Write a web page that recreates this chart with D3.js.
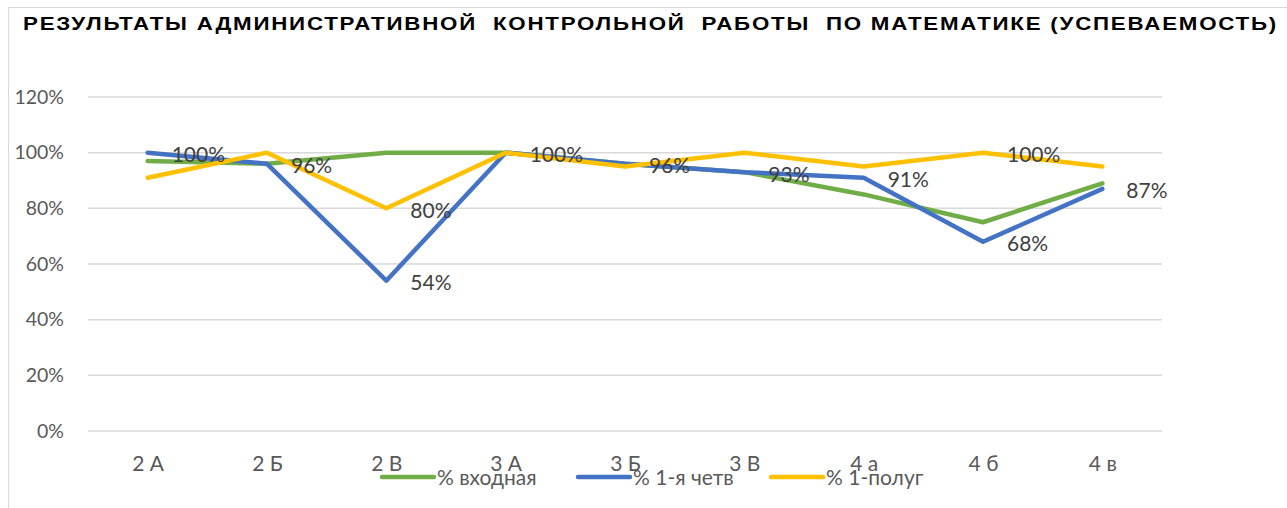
<!DOCTYPE html>
<html><head><meta charset="utf-8">
<script src="https://cdn.jsdelivr.net/npm/d3@7"></script>
<style>html,body{margin:0;padding:0;background:#fff;}svg{display:block;}</style>
</head><body>
<svg id="c" width="1287" height="508"></svg>
<script>
const title = "РЕЗУЛЬТАТЫ АДМИНИСТРАТИВНОЙ  КОНТРОЛЬНОЙ  РАБОТЫ  ПО МАТЕМАТИКЕ (УСПЕВАЕМОСТЬ)";
const categories = ["2 А","2 Б","2 В","3 А","3 Б","3 В","4 а","4 б","4 в"];
const seriesNames = ["% входная","% 1-я четв","% 1-полуг"];
const vhodnaya = [0.97,0.96,1.00,1.00,0.96,0.93,0.85,0.75,0.89];
const chetv1   = [1.00,0.96,0.54,1.00,0.96,0.93,0.91,0.68,0.87];
const polug1   = [0.91,1.00,0.80,1.00,0.95,1.00,0.95,1.00,0.95];
const chetv1Labels = [true,true,true,true,true,true,true,true,true];
const polug1Labels = [false,false,true,false,false,false,false,true,false];
const yTicks = [0,0.2,0.4,0.6,0.8,1.0,1.2];
const colors = ["#70ad47","#4472c4","#ffc000"];

const svg = d3.select("#c");
const W = 1287, H = 508;
const mLeft = 88, mRight = 1162, mTop = 97, mBottom = 431;

// chart border
svg.append("rect").attr("x",8.5).attr("y",7.5).attr("width",W+10).attr("height",H+10)
  .attr("fill","none").attr("stroke","#d9d9d9").attr("stroke-width",1);

svg.append("text").attr("x",23).attr("y",30)
  .attr("font-family","'Liberation Sans', Arial, sans-serif").attr("font-weight","bold")
  .attr("font-size",19).attr("fill","#000")
  .attr("letter-spacing",1.5)
  .attr("textLength",1255).attr("lengthAdjust","spacingAndGlyphs")
  .style("white-space","pre")
  .text(title);

const x = d3.scalePoint().domain(categories).range([mLeft,mRight]).padding(0.5);
const y = d3.scaleLinear().domain([0,1.2]).range([mBottom,mTop]);

// grid
svg.append("g").selectAll("line").data(yTicks).join("line")
  .attr("x1",mLeft).attr("x2",mRight)
  .attr("y1",d=>y(d)).attr("y2",d=>y(d))
  .attr("stroke","#d9d9d9").attr("stroke-width",1.5);

const font = "Lato, 'Open Sans', sans-serif";
// y axis labels
const yAxis = d3.axisLeft(y).tickValues(yTicks).tickFormat(d3.format(".0%")).tickSize(0).tickPadding(0);
const yg = svg.append("g").attr("transform","translate(64,0)").call(yAxis);
yg.select(".domain").remove();
yg.selectAll("text").attr("font-family",font).attr("font-size",19.5).attr("fill","#595959");

// x axis labels
const xAxis = d3.axisBottom(x).tickSize(0).tickPadding(0);
const xg = svg.append("g").attr("transform","translate(0,471)").call(xAxis);
xg.select(".domain").remove();
xg.selectAll("text").attr("font-family",font).attr("font-size",21).attr("fill","#595959").attr("dy",0);

const series = [vhodnaya, chetv1, polug1];
const line = d3.line().x((d,i)=>x(categories[i])).y(d=>y(d));
series.forEach((s,k)=>{
  svg.append("path").datum(s).attr("d",line)
    .attr("fill","none").attr("stroke",colors[k]).attr("stroke-width",4.5)
    .attr("stroke-linejoin","round").attr("stroke-linecap","round");
});

// data labels
const labelSets = [[chetv1, chetv1Labels],[polug1, polug1Labels]];
labelSets.forEach(([s,flags])=>{
  svg.append("g").selectAll("text").data(s.map((v,i)=>({v,i})).filter(d=>flags[d.i])).join("text")
    .attr("x",d=>x(categories[d.i])+24).attr("y",d=>y(d.v)+2)
    .attr("dy","0.35em")
    .attr("font-family",font).attr("font-size",21).attr("fill","#404040")
    .text(d=>d3.format(".0%")(d.v));
});

// legend
const legX = [382,578,771];
seriesNames.forEach((n,k)=>{
  const g = svg.append("g");
  g.append("line").attr("x1",legX[k]).attr("x2",legX[k]+52).attr("y1",477).attr("y2",477)
    .attr("stroke",colors[k]).attr("stroke-width",4.5).attr("stroke-linecap","round");
  g.append("text").attr("x",legX[k]+55).attr("y",478).attr("dy","0.35em")
    .attr("font-family",font).attr("font-size",21).attr("fill","#595959").text(n);
});
</script>
</body></html>
